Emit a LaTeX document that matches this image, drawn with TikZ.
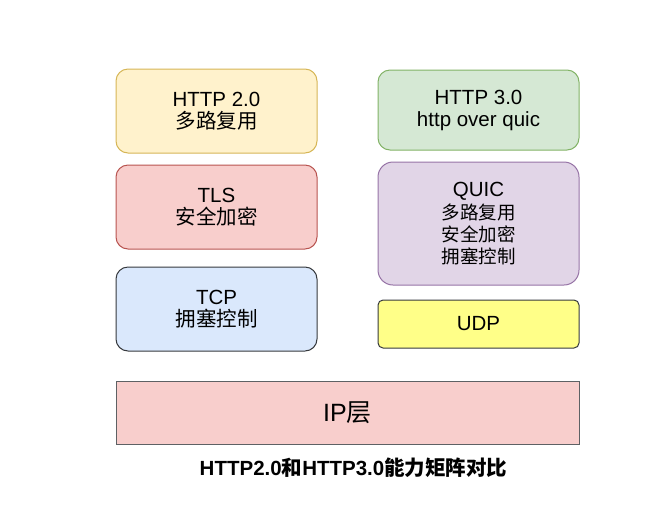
\documentclass[tikz,border=0pt]{standalone}
\usepackage{fontspec}
\usepackage{xcolor}
\usepackage{tikz}
\usetikzlibrary{positioning}
\setmainfont{Liberation Sans}
\newfontfamily\cjk{Noto Sans CJK SC}
\newcommand{\zh}[1]{{\cjk #1}}
\definecolor{NoteFill}{HTML}{FFF2CC}
\definecolor{NoteLine}{HTML}{D6B656}
\definecolor{RoseFill}{HTML}{F8CECC}
\definecolor{RoseLine}{HTML}{B85450}
\definecolor{SkyFill}{HTML}{DAE8FC}
\definecolor{MintFill}{HTML}{D5E8D4}
\definecolor{MintLine}{HTML}{82B366}
\definecolor{LilacFill}{HTML}{E1D5E7}
\definecolor{LilacLine}{HTML}{9673A6}
\definecolor{LemonFill}{HTML}{FFFF88}
\definecolor{InkLine}{HTML}{36393D}

\begin{document}
\begin{tikzpicture}[
    x=1pt, y=1pt,
    layer/.style={draw, rounded corners=12pt, minimum width=201pt, minimum height=84pt,
                  align=center, line width=1pt, font=\fontsize{20.5}{22}\selectfont},
  ]
    \useasboundingbox (0,0) rectangle (663,-523);

    % HTTP 2.0 stack
    \node[layer, fill=NoteFill, draw=NoteLine] (http2) at (216.5,-111)
      {HTTP 2.0\\\zh{多路复用}};
    \node[layer, fill=RoseFill, draw=RoseLine, below=11pt of http2] (tls)
      {TLS\\\zh{安全加密}};
    \node[layer, fill=SkyFill, draw=InkLine, below=17pt of tls] (tcp)
      {TCP\\\zh{拥塞控制}};

    % HTTP 3.0 stack
    \node[layer, fill=MintFill, draw=MintLine, minimum height=80pt,
          right=60pt of http2.north east, anchor=north west, yshift=-1pt] (http3)
      {HTTP 3.0\\http over quic};
    \node[layer, fill=LilacFill, draw=LilacLine, minimum height=123pt, rounded corners=15pt,
          below=11pt of http3] (quic)
      {QUIC\\[1pt]{\fontsize{18.5}{21.5}\selectfont\zh{多路复用}}\\{\fontsize{18.5}{21.5}\selectfont\zh{安全加密}}\\{\fontsize{18.5}{21.5}\selectfont\zh{拥塞控制}}};
    \node[layer, fill=LemonFill, draw=InkLine, minimum height=48pt, rounded corners=5pt,
          below=14pt of quic] (udp)
      {UDP};

    % IP layer
    \node[layer, fill=RoseFill, draw=InkLine!80, sharp corners, minimum width=463pt,
          minimum height=63pt, font=\fontsize{25}{28}\selectfont,
          below=29pt of tcp.south west, anchor=north west] (ip)
      {IP\zh{层}};

    % Caption
    \node[font=\fontsize{20.5}{22}\selectfont\bfseries, below=10pt of ip, xshift=6pt] (caption)
      {HTTP2.0\zh{和}HTTP3.0\zh{能力矩阵对比}};
\end{tikzpicture}
\end{document}
